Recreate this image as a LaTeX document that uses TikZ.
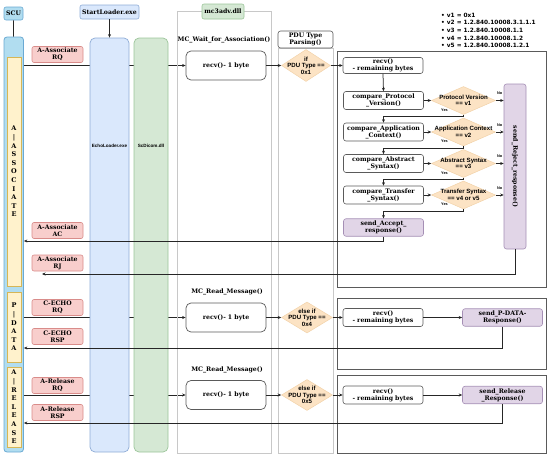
\documentclass[tikz,border=0pt]{standalone}
\usepackage{fontspec}
\newfontfamily\srf{DejaVu Serif}
\newfontfamily\sns{Liberation Sans}
\newfontfamily\dvs{DejaVu Sans}
\usetikzlibrary{shapes.geometric,arrows.meta,calc,backgrounds}
\definecolor{scuF}{HTML}{B1DDF0}
\definecolor{scuD}{HTML}{6AA9D3}
\definecolor{yelF}{HTML}{FFF2CC}
\definecolor{yelD}{HTML}{D6B656}
\definecolor{msgF}{HTML}{F8CECC}
\definecolor{msgD}{HTML}{D98C8A}
\definecolor{echoF}{HTML}{DAE8FC}
\definecolor{echoD}{HTML}{8EACD6}
\definecolor{dicF}{HTML}{D5E8D4}
\definecolor{dicD}{HTML}{9CC59A}
\definecolor{diaF}{HTML}{FCE3C4}
\definecolor{diaD}{HTML}{F2D2A9}
\definecolor{purF}{HTML}{E1D5E7}
\definecolor{purD}{HTML}{A58FB5}
\definecolor{laneD}{HTML}{C8C8C8}
\definecolor{boxD}{HTML}{5A5A5A}
\definecolor{lineC}{HTML}{262626}
\begin{document}
\begin{tikzpicture}[x=1pt,y=-1pt,
  lbl/.style={font=\srf\bfseries\fontsize{6.2}{7}\selectfont, align=center, inner sep=0pt},
  msg/.style={lbl, draw=msgD, fill=msgF, rounded corners=2pt, minimum width=51pt, minimum height=16pt, line width=0.6pt},
  proc/.style={lbl, draw=boxD, fill=white, rounded corners=2.5pt, minimum width=80pt, minimum height=18pt, line width=0.6pt},
  purp/.style={lbl, draw=purD, fill=purF, rounded corners=2.5pt, minimum width=80pt, minimum height=17.5pt, line width=0.6pt},
  rbox/.style={lbl, draw=boxD, fill=white, rounded corners=5pt, minimum width=80pt, minimum height=29pt, line width=0.7pt},
  dia/.style={diamond, draw=diaD, fill=diaF, inner sep=0pt, minimum width=64pt, minimum height=28pt, line width=0.5pt},
  dtxt/.style={font=\sns\bfseries\fontsize{6.1}{6.5}\selectfont, align=center, inner sep=0pt},
  yn/.style={font=\sns\bfseries\fontsize{3.8}{4}\selectfont, inner sep=0pt},
  lane/.style={draw=laneD, line width=0.9pt, inner sep=0pt},
  bigbox/.style={draw=boxD, line width=0.8pt, inner sep=0pt},
  conn/.style={draw=lineC, line width=0.75pt},
  arr/.style={conn, -{Stealth[length=3.5pt, width=3pt]}},
  vlet/.style={font=\srf\bfseries\fontsize{6.5}{8.6}\selectfont, align=center, inner sep=0pt, draw=yelD, fill=yelF, minimum width=14pt, line width=0.5pt},
  colsm/.style={font=\sns\bfseries\fontsize{4.6}{5}\selectfont, inner sep=0pt}]
\useasboundingbox (0,0) rectangle (550,455);

% lanes and frames
\node[lane, minimum width=94pt, minimum height=442pt] (mclane) at (224,232) {};
\node[lane, minimum width=55pt, minimum height=405pt] (pdulane) at (305.5,250.5) {};
\node[bigbox, minimum width=209pt, minimum height=236pt] (f1) at (441.5,169) {};
\node[bigbox, minimum width=209pt, minimum height=71pt] (f2) at (441.5,333.5) {};
\node[bigbox, minimum width=209pt, minimum height=78pt] (f3) at (441.5,414) {};

% SCU
\node[lbl, draw=scuD, fill=scuF, line width=0.6pt, rounded corners=2pt, minimum width=19pt, minimum height=13pt] (scu) at (13.5,13.5) {SCU};
\node[draw=scuD, fill=scuF, line width=0.8pt, rounded corners=3pt, minimum width=19.5pt, minimum height=415pt] (scucol) at (13.75,244.5) {};
\node[vlet, minimum height=229pt] (yA) at (14,171.5) {A\\|\\A\\S\\S\\O\\C\\I\\A\\T\\E};
\node[vlet, minimum height=70pt] (yP) at (14,327) {P\\|\\D\\A\\T\\A};
\node[vlet, minimum height=80pt] (yR) at (14,407) {A\\|\\R\\E\\L\\E\\A\\S\\E};

% messages
\node[msg] (mrq) at (57.5,54.5) {A-Associate\\RQ};
\node[msg] (mac) at (57.5,230.5) {A-Associate\\AC};
\node[msg] (mrj) at (57.5,263) {A-Associate\\RJ};
\node[msg] (mer) at (57.5,307.5) {C-ECHO\\RQ};
\node[msg] (mes) at (57.5,336.5) {C-ECHO\\RSP};
\node[msg] (mlr) at (57.5,385.5) {A-Release\\RQ};
\node[msg] (mls) at (57.5,412.5) {A-Release\\RSP};

% loader columns
\node[lbl, draw=echoD, fill=echoF, rounded corners=2pt, minimum width=59pt, minimum height=14pt, line width=0.6pt] (start) at (109.5,12) {StartLoader.exe};
\node[draw=echoD, fill=echoF, rounded corners=5pt, minimum width=39pt, minimum height=414pt, line width=0.7pt] (echo) at (109.5,245) {};
\node[draw=dicD, fill=dicF, rounded corners=5pt, minimum width=34pt, minimum height=414pt, line width=0.7pt] (dicom) at (151,245) {};
\node[colsm] (echolbl) at (109.5,146) {EchoLoader.exe};
\node[colsm] (diclbl) at (151,146) {ScDicom.dll};

% mc3adv lane
\node[lbl, draw=dicD, fill=dicF, rounded corners=2pt, minimum width=42pt, minimum height=15pt, line width=0.6pt] (mc3) at (223,11.5) {mc3adv.dll};
\node[lbl] (mcwait) at (224,40) {MC\_Wait\_for\_Association()};
\node[lbl] (mcread1) at (227,292) {MC\_Read\_Message()};
\node[lbl] (mcread2) at (227,370) {MC\_Read\_Message()};
\node[rbox] (recv1) at (226,65.5) {recv()- 1 byte};
\node[rbox] (recv2) at (226,317.5) {recv()- 1 byte};
\node[rbox] (recv3) at (226,395) {recv()- 1 byte};

% PDU lane
\node[lbl, draw=boxD, fill=white, rounded corners=2.5pt, minimum width=55pt, minimum height=17pt, line width=0.6pt] (pdu) at (305.5,39.5) {PDU Type\\Parsing()};
\node[dia, minimum width=49pt, minimum height=32pt, label={[dtxt]center:{if\\PDU Type ==\\0x1}}] (d1) at (306,65.5) {};
\node[dia, minimum width=51pt, minimum height=31pt, label={[dtxt]center:{else if\\PDU Type ==\\0x4}}] (d2) at (307,317.5) {};
\node[dia, minimum width=51pt, minimum height=31pt, label={[dtxt]center:{else if\\PDU Type ==\\0x5}}] (d3) at (307,395) {};

% frame 1
\node[proc, minimum height=16pt] (rr1) at (383,65.5) {recv()\\- remaining bytes};
\node[proc] (cP) at (383.5,100.5) {compare\_Protocol\\\_Version()};
\node[proc] (cA) at (383.5,132) {compare\_Application\\\_Context()};
\node[proc] (cS) at (383.5,163.5) {compare\_Abstract\\\_Syntax()};
\node[proc] (cT) at (383.5,195) {compare\_Transfer\\\_Syntax()};
\node[purp] (acc) at (383.5,227.5) {send\_Accept\_\\response()};
\node[dia, label={[dtxt]center:{Protocol Version\\== v1}}] (dP) at (463.5,100.5) {};
\node[dia, label={[dtxt]center:{Application Context\\== v2}}] (dA) at (463.5,132) {};
\node[dia, label={[dtxt]center:{Abstract Syntax\\== v3}}] (dS) at (463.5,163.5) {};
\node[dia, label={[dtxt]center:{Transfer Syntax\\== v4 or v5}}] (dT) at (463.5,195) {};
\node[purp, minimum width=22pt, minimum height=165pt, label={[lbl, rotate=-90]center:{send\_Reject\_response()}}] (rej) at (515,166.5) {};

% frame 2 and 3
\node[proc] (rr2) at (383,317.5) {recv()\\- remaining bytes};
\node[purp] (sp) at (502.5,317.5) {send\_P-DATA-\\Response()};
\node[proc] (rr3) at (383,395) {recv()\\- remaining bytes};
\node[purp] (sr) at (502.5,395) {send\_Release\\\_Response()};

% legend
\node[anchor=north west, font=\dvs\bfseries\fontsize{5.8}{7.7}\selectfont, align=left, inner sep=0pt] (legend) at (441,12.5)
 {• v1 = 0x1\\• v2 = 1.2.840.10008.3.1.1.1\\• v3 = 1.2.840.10008.1.1\\• v4 = 1.2.840.10008.1.2\\• v5 = 1.2.840.10008.1.2.1};

% forward connectors behind columns
\begin{scope}[on background layer]
\draw[arr] (scucol.east |- recv1.west) -- (recv1.west);
\draw[arr] (scucol.east |- recv2.west) -- (recv2.west);
\draw[arr] (scucol.east |- recv3.west) -- (recv3.west);
\end{scope}

\draw[conn] (scu) -- (scucol);
\draw[arr] (start) -- (echo);

\draw[arr] (recv1.east) -- (d1.west);
\draw[arr] (d1.east) -- (rr1.west);
\draw[arr] (recv2.east) -- (d2.west);
\draw[arr] (d2.east) -- (rr2.west);
\draw[arr] (recv3.east) -- (d3.west);
\draw[arr] (d3.east) -- (rr3.west);

\draw[arr] (rr1.south) -- (cP.north);
\draw[arr] (cP.east) -- (dP.west);
\draw[arr] (cA.east) -- (dA.west);
\draw[arr] (cS.east) -- (dS.west);
\draw[arr] (cT.east) -- (dT.west);
\draw[arr] (dP.east) -- (rej.west |- dP.east);
\draw[arr] (dA.east) -- (rej.west |- dA.east);
\draw[arr] (dS.east) -- (rej.west |- dS.east);
\draw[arr] (dT.east) -- (rej.west |- dT.east);
\draw[arr] (dP.south) -- ++(0,2) -| (cA.north);
\draw[arr] (dA.south) -- ++(0,2) -| (cS.north);
\draw[arr] (dS.south) -- ++(0,2) -| (cT.north);
\draw[arr] (dT.south) -- ++(0,2) -| (acc.north);

\node[yn] (ysP) at ($(dP.south)+(-19,-5)$) {Yes};
\node[yn] (ysA) at ($(dA.south)+(-19,-5)$) {Yes};
\node[yn] (ysS) at ($(dS.south)+(-19,-5)$) {Yes};
\node[yn] (ysT) at ($(dT.south)+(-19,-5)$) {Yes};
\node[yn] (noP) at ($(dP.east)+(4,-7)$) {No};
\node[yn] (noA) at ($(dA.east)+(4,-7)$) {No};
\node[yn] (noS) at ($(dS.east)+(4,-7)$) {No};
\node[yn] (noT) at ($(dT.east)+(4,-7)$) {No};

\draw[arr] (rr2.east) -- (sp.west);
\draw[arr] (rr3.east) -- (sr.west);

% return connectors
\coordinate (acY) at (0,241);
\coordinate (rjEnd) at (42,274);
\coordinate (rspY) at (0,348);
\coordinate (relY) at (0,423);
\draw[arr] (acc.south) |- (scucol.east |- acY);
\draw[arr] (rej.south) |- (rjEnd);
\draw[arr] (sp.south) |- (scucol.east |- rspY);
\draw[arr] (sr.south) |- (scucol.east |- relY);
\end{tikzpicture}
\end{document}
